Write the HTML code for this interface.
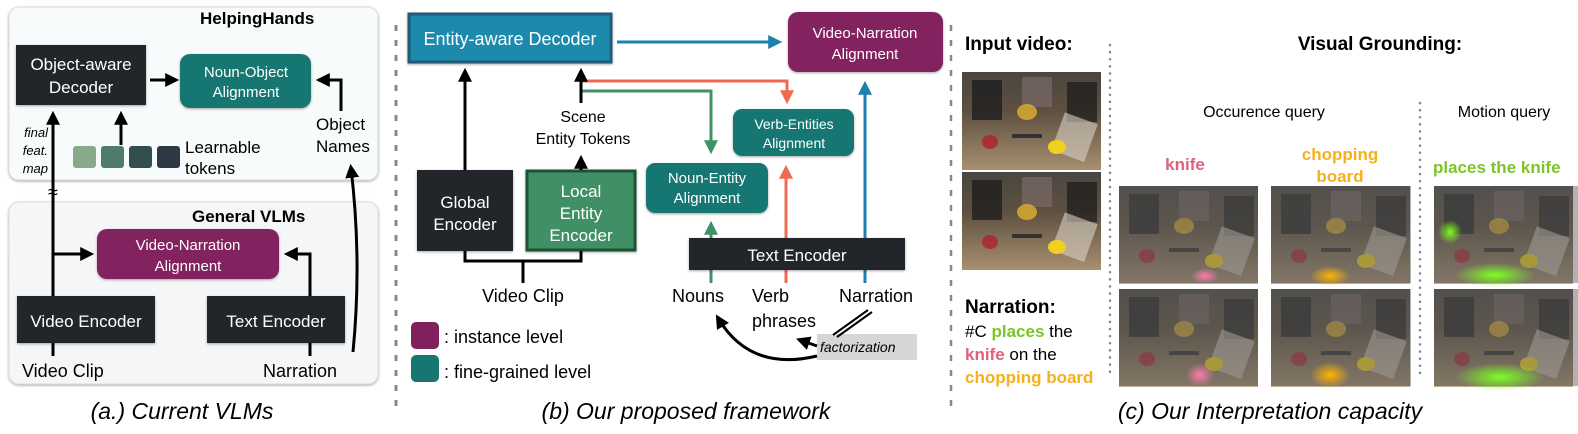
<!DOCTYPE html>
<html><head><meta charset="utf-8"><style>
html,body{margin:0;padding:0;background:#fff;}
svg{display:block;font-family:"Liberation Sans",sans-serif;}
</style></head><body>
<svg width="1578" height="434" viewBox="0 0 1578 434" xmlns="http://www.w3.org/2000/svg">
<defs>
<marker id="ab" viewBox="0 0 10 10" markerWidth="14" markerHeight="14" refX="7" refY="5" orient="auto" markerUnits="userSpaceOnUse"><path d="M0,0 L10,5 L0,10 Z" fill="#1f7fae"/></marker>
<marker id="ar" viewBox="0 0 10 10" markerWidth="14" markerHeight="14" refX="7" refY="5" orient="auto" markerUnits="userSpaceOnUse"><path d="M0,0 L10,5 L0,10 Z" fill="#ef6a50"/></marker>
<marker id="ag" viewBox="0 0 10 10" markerWidth="14" markerHeight="14" refX="7" refY="5" orient="auto" markerUnits="userSpaceOnUse"><path d="M0,0 L10,5 L0,10 Z" fill="#3f9168"/></marker>
<marker id="ax" viewBox="0 0 10 10" markerWidth="14" markerHeight="14" refX="7" refY="5" orient="auto" markerUnits="userSpaceOnUse"><path d="M0,0 L10,5 L0,10 Z" fill="#000"/></marker>
<linearGradient id="img" x1="0" y1="0" x2="0" y2="1"><stop offset="0" stop-color="#4a4640"/><stop offset="0.4" stop-color="#5d5040"/><stop offset="1" stop-color="#a89070"/></linearGradient>
<linearGradient id="imgd" x1="0" y1="0" x2="0" y2="1"><stop offset="0" stop-color="#2c2a27"/><stop offset="0.4" stop-color="#3a332b"/><stop offset="1" stop-color="#6a5a44"/></linearGradient>
<radialGradient id="pk"><stop offset="0" stop-color="#ff7ab0"/><stop offset="1" stop-color="#ff7ab0" stop-opacity="0"/></radialGradient>
<radialGradient id="yl"><stop offset="0" stop-color="#ffb400"/><stop offset="1" stop-color="#ffb400" stop-opacity="0"/></radialGradient>
<radialGradient id="gr"><stop offset="0" stop-color="#7dff20"/><stop offset="1" stop-color="#7dff20" stop-opacity="0"/></radialGradient>
<filter id="sh"><feDropShadow dx="0" dy="1" stdDeviation="1.2" flood-opacity="0.35"/></filter>
<g id="scene">
<rect x="0" y="0" width="139" height="98" fill="url(#img)"/>
<rect x="10" y="8" width="30" height="40" fill="#1e1e1e" opacity="0.8"/>
<rect x="60" y="5" width="30" height="30" fill="#7a6a66" opacity="0.7"/>
<rect x="105" y="10" width="30" height="40" fill="#1a1a1a" opacity="0.7"/>
<rect x="95" y="45" width="35" height="40" fill="#d8d0c4" opacity="0.6" transform="rotate(20 112 65)"/>
<ellipse cx="65" cy="40" rx="10" ry="8" fill="#e0b030" opacity="0.8"/>
<ellipse cx="95" cy="75" rx="9" ry="7" fill="#f0d020"/>
<ellipse cx="28" cy="70" rx="8" ry="7" fill="#b02030" opacity="0.8"/>
<rect x="50" y="62" width="30" height="4" fill="#333"/>
</g>
</defs>

<!-- Panel A -->
<rect x="9" y="7" width="369" height="173" rx="10" fill="#f8fbfb" stroke="#ddd" filter="url(#sh)"/>
<rect x="9" y="202" width="369" height="182" rx="10" fill="#f4f6f8" stroke="#ddd" filter="url(#sh)"/>
<text x="200" y="24" font-size="17" font-weight="bold">HelpingHands</text>
<rect x="16" y="45" width="130" height="60" fill="#212529" filter="url(#sh)"/>
<text x="81" y="70" font-size="17" fill="#fff" text-anchor="middle">Object-aware</text>
<text x="81" y="93" font-size="17" fill="#fff" text-anchor="middle">Decoder</text>
<rect x="180" y="54" width="131" height="54" rx="10" fill="#187672" filter="url(#sh)"/>
<text x="246" y="77" font-size="15" fill="#fff" text-anchor="middle">Noun-Object</text>
<text x="246" y="97" font-size="15" fill="#fff" text-anchor="middle">Alignment</text>
<line x1="150" y1="80" x2="175" y2="80" stroke="#000" stroke-width="3" marker-end="url(#ax)"/>
<path d="M341,111 L341,80 L320,80" fill="none" stroke="#000" stroke-width="3" marker-end="url(#ax)"/>
<text x="316" y="130" font-size="17">Object</text>
<text x="316" y="152" font-size="17">Names</text>
<rect x="73" y="146" width="23" height="22" rx="3" fill="#88a98a"/>
<rect x="101" y="146" width="23" height="22" rx="3" fill="#4f7b6e"/>
<rect x="129" y="146" width="23" height="22" rx="3" fill="#334e4e"/>
<rect x="157" y="146" width="23" height="22" rx="3" fill="#2b3a44"/>
<text x="185" y="153" font-size="17">Learnable</text>
<text x="185" y="174" font-size="17">tokens</text>
<line x1="121" y1="145" x2="121" y2="115" stroke="#000" stroke-width="3" marker-end="url(#ax)"/>
<line x1="53" y1="296" x2="53" y2="115" stroke="#000" stroke-width="3" marker-end="url(#ax)"/>
<text x="53" y="198" font-size="18" text-anchor="middle">≈</text>
<text x="48" y="137" font-size="13" font-style="italic" text-anchor="end">final</text>
<text x="48" y="155" font-size="13" font-style="italic" text-anchor="end">feat.</text>
<text x="48" y="173" font-size="13" font-style="italic" text-anchor="end">map</text>
<text x="192" y="222" font-size="17" font-weight="bold">General VLMs</text>
<rect x="97" y="229" width="182" height="50" rx="10" fill="#82205e" filter="url(#sh)"/>
<text x="188" y="250" font-size="15" fill="#fff" text-anchor="middle">Video-Narration</text>
<text x="188" y="271" font-size="15" fill="#fff" text-anchor="middle">Alignment</text>
<line x1="53" y1="254" x2="90" y2="254" stroke="#000" stroke-width="3" marker-end="url(#ax)"/>
<path d="M310,296 L310,254 L288,254" fill="none" stroke="#000" stroke-width="3" marker-end="url(#ax)"/>
<rect x="17" y="296" width="138" height="47" fill="#212529" filter="url(#sh)"/>
<text x="86" y="327" font-size="17" fill="#fff" text-anchor="middle">Video Encoder</text>
<rect x="207" y="296" width="138" height="47" fill="#212529" filter="url(#sh)"/>
<text x="276" y="327" font-size="17" fill="#fff" text-anchor="middle">Text Encoder</text>
<line x1="53" y1="343" x2="53" y2="356" stroke="#000" stroke-width="3"/>
<line x1="310" y1="343" x2="310" y2="356" stroke="#000" stroke-width="3"/>
<text x="22" y="377" font-size="18">Video Clip</text>
<text x="263" y="377" font-size="18">Narration</text>
<path d="M353,352 Q362,260 351,168" fill="none" stroke="#000" stroke-width="3" marker-end="url(#ax)"/>
<text x="182" y="419" font-size="23" font-style="italic" text-anchor="middle">(a.) Current VLMs</text>

<line x1="396" y1="25" x2="396" y2="415" stroke="#888" stroke-width="3" stroke-dasharray="6,9"/>

<!-- Panel B -->
<rect x="409" y="14" width="202" height="48" fill="#1a8aad" stroke="#205a78" stroke-width="3" filter="url(#sh)"/>
<text x="510" y="45" font-size="18" fill="#fff" text-anchor="middle">Entity-aware Decoder</text>
<line x1="617" y1="42" x2="778" y2="42" stroke="#1f7fae" stroke-width="3" marker-end="url(#ab)"/>
<rect x="788" y="12" width="155" height="60" rx="10" fill="#82205e" filter="url(#sh)"/>
<text x="865" y="38" font-size="15" fill="#fff" text-anchor="middle">Video-Narration</text>
<text x="865" y="59" font-size="15" fill="#fff" text-anchor="middle">Alignment</text>
<rect x="417" y="170" width="96" height="81" fill="#212529" filter="url(#sh)"/>
<text x="465" y="208" font-size="17" fill="#fff" text-anchor="middle">Global</text>
<text x="465" y="230" font-size="17" fill="#fff" text-anchor="middle">Encoder</text>
<rect x="527" y="171" width="108" height="79" fill="#3f8f65" stroke="#1f5336" stroke-width="3" filter="url(#sh)"/>
<text x="581" y="197" font-size="17" fill="#fff" text-anchor="middle">Local</text>
<text x="581" y="219" font-size="17" fill="#fff" text-anchor="middle">Entity</text>
<text x="581" y="241" font-size="17" fill="#fff" text-anchor="middle">Encoder</text>
<line x1="465" y1="170" x2="465" y2="72" stroke="#000" stroke-width="3" marker-end="url(#ax)"/>
<line x1="581" y1="170" x2="581" y2="159" stroke="#000" stroke-width="3" marker-end="url(#ax)"/>
<text x="583" y="122" font-size="16" text-anchor="middle">Scene</text>
<text x="583" y="144" font-size="16" text-anchor="middle">Entity Tokens</text>
<path d="M581,81 L787,81 L787,100" fill="none" stroke="#ef6a50" stroke-width="3" marker-end="url(#ar)"/>
<path d="M581,91 L711,91 L711,150" fill="none" stroke="#3f9168" stroke-width="3" marker-end="url(#ag)"/>
<line x1="581" y1="103" x2="581" y2="72" stroke="#000" stroke-width="3" marker-end="url(#ax)"/>
<rect x="733" y="109" width="121" height="47" rx="9" fill="#187672" filter="url(#sh)"/>
<text x="794" y="129" font-size="14" fill="#fff" text-anchor="middle">Verb-Entities</text>
<text x="794" y="148" font-size="14" fill="#fff" text-anchor="middle">Alignment</text>
<rect x="646" y="163" width="122" height="50" rx="9" fill="#187672" filter="url(#sh)"/>
<text x="707" y="183" font-size="15" fill="#fff" text-anchor="middle">Noun-Entity</text>
<text x="707" y="203" font-size="15" fill="#fff" text-anchor="middle">Alignment</text>
<path d="M465,251 L465,261 L581,261 L581,251" fill="none" stroke="#000" stroke-width="3"/>
<line x1="523" y1="261" x2="523" y2="283" stroke="#000" stroke-width="3"/>
<text x="523" y="302" font-size="18" text-anchor="middle">Video Clip</text>
<line x1="711" y1="283" x2="711" y2="225" stroke="#3f9168" stroke-width="3" marker-end="url(#ag)"/>
<line x1="786" y1="283" x2="786" y2="169" stroke="#ef6a50" stroke-width="3" marker-end="url(#ar)"/>
<line x1="865" y1="283" x2="865" y2="85" stroke="#1f7fae" stroke-width="3" marker-end="url(#ab)"/>
<rect x="689" y="238" width="216" height="32" fill="#212529" filter="url(#sh)"/>
<text x="797" y="261" font-size="17" fill="#fff" text-anchor="middle">Text Encoder</text>
<text x="672" y="302" font-size="18">Nouns</text>
<text x="752" y="302" font-size="18">Verb</text>
<text x="752" y="327" font-size="18">phrases</text>
<text x="839" y="302" font-size="18">Narration</text>
<rect x="817" y="334" width="100" height="26" fill="#d6d6d6"/>
<text x="820" y="352" font-size="14" font-style="italic">factorization</text>
<path d="M817,356 Q750,372 718,318" fill="none" stroke="#000" stroke-width="3" marker-end="url(#ax)"/>
<path d="M868,310 L833,335 M872,312 L837,337" stroke="#000" stroke-width="2"/>
<line x1="817" y1="346" x2="800" y2="340" stroke="#000" stroke-width="3" marker-end="url(#ax)"/>
<rect x="411" y="322" width="28" height="27" rx="5" fill="#82205e"/>
<rect x="411" y="355" width="28" height="27" rx="5" fill="#187672"/>
<text x="444" y="343" font-size="18">: instance level</text>
<text x="444" y="378" font-size="18">: fine-grained level</text>
<text x="686" y="419" font-size="23" font-style="italic" text-anchor="middle">(b) Our proposed framework</text>

<line x1="951" y1="25" x2="951" y2="415" stroke="#888" stroke-width="2.5" stroke-dasharray="6,9"/>

<!-- Panel C -->
<text x="965" y="50" font-size="19" font-weight="bold">Input video:</text>
<text x="1380" y="50" font-size="19" font-weight="bold" text-anchor="middle">Visual Grounding:</text>
<use href="#scene" x="962" y="72"/>
<use href="#scene" x="962" y="172"/>
<line x1="1110" y1="45" x2="1110" y2="378" stroke="#888" stroke-width="2.5" stroke-dasharray="0.1,7" stroke-linecap="round"/>
<line x1="1420" y1="103" x2="1420" y2="378" stroke="#888" stroke-width="2.5" stroke-dasharray="0.1,7" stroke-linecap="round"/>
<text x="1264" y="117" font-size="16" text-anchor="middle">Occurence query</text>
<text x="1504" y="117" font-size="16" text-anchor="middle">Motion query</text>
<text x="1185" y="170" font-size="17" font-weight="bold" fill="#e0607e" text-anchor="middle">knife</text>
<text x="1340" y="160" font-size="17" font-weight="bold" fill="#f5b01e" text-anchor="middle">chopping</text>
<text x="1340" y="182" font-size="17" font-weight="bold" fill="#f5b01e" text-anchor="middle">board</text>
<text x="1433" y="173" font-size="17" font-weight="bold" fill="#7dc42a">places the knife</text>
<g opacity="0.75">
<use href="#scene" x="1119" y="186"/><use href="#scene" x="1119" y="289"/>
<use href="#scene" x="1271" y="186"/><use href="#scene" x="1271" y="289"/>
<use href="#scene" x="1434" y="186"/><use href="#scene" x="1434" y="289"/>
</g>
<g fill="#000" opacity="0.3">
<rect x="1119" y="186" width="139" height="97"/><rect x="1119" y="289" width="139" height="97"/>
<rect x="1271" y="186" width="140" height="97"/><rect x="1271" y="289" width="140" height="97"/>
<rect x="1434" y="186" width="144" height="97"/><rect x="1434" y="289" width="144" height="97"/>
</g>
<ellipse cx="1205" cy="276" rx="14" ry="8" fill="url(#pk)"/>
<ellipse cx="1200" cy="375" rx="14" ry="12" fill="url(#pk)"/>
<ellipse cx="1330" cy="276" rx="20" ry="10" fill="url(#yl)"/>
<ellipse cx="1330" cy="375" rx="20" ry="13" fill="url(#yl)"/>
<ellipse cx="1495" cy="275" rx="40" ry="12" fill="url(#gr)"/>
<ellipse cx="1450" cy="232" rx="12" ry="12" fill="url(#gr)"/>
<ellipse cx="1500" cy="377" rx="45" ry="14" fill="url(#gr)"/>
<text x="965" y="313" font-size="19" font-weight="bold">Narration:</text>
<text x="965" y="337" font-size="17">#C <tspan fill="#7dc42a" font-weight="bold">places</tspan> the</text>
<text x="965" y="360" font-size="17"><tspan fill="#e0607e" font-weight="bold">knife</tspan> on the</text>
<text x="965" y="383" font-size="17" fill="#f5b01e" font-weight="bold">chopping board</text>
<text x="1270" y="419" font-size="23" font-style="italic" text-anchor="middle">(c) Our Interpretation capacity</text>
</svg>
</body></html>
